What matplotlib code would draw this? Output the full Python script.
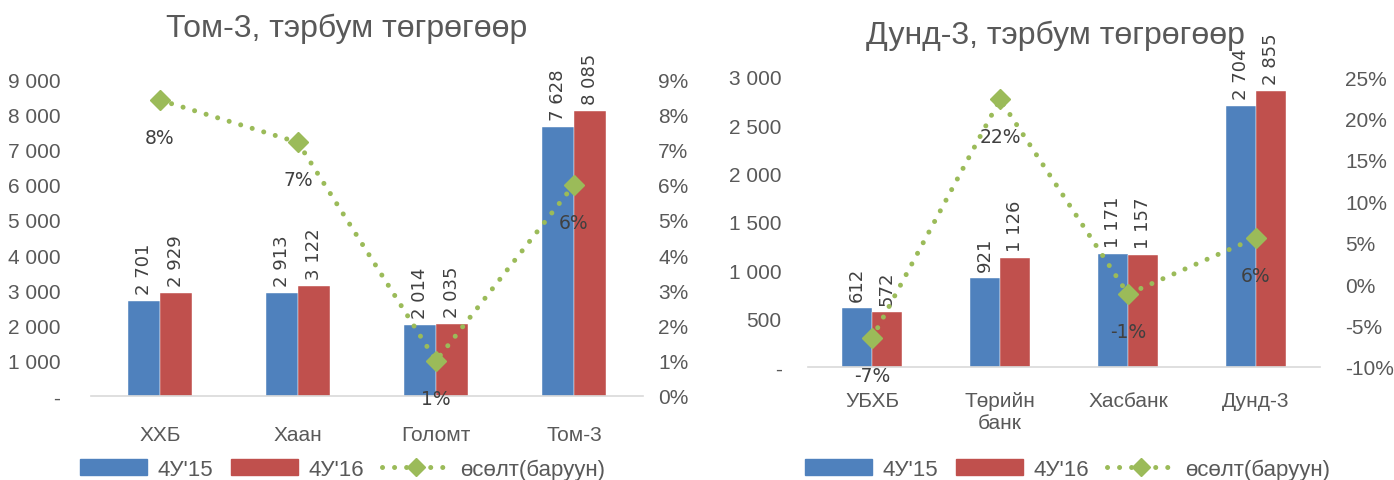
import numpy as np
import matplotlib
matplotlib.use('Agg')
import matplotlib.pyplot as plt
from matplotlib.lines import Line2D
from matplotlib.patches import Patch
from matplotlib.ticker import FuncFormatter, MultipleLocator

plt.rcParams['font.family'] = ['Liberation Sans', 'DejaVu Sans']

# Data
cat_tom = ['ХХБ', 'Хаан', 'Голомт', 'Том-3']
tom_15 = [2701, 2913, 2014, 7628]
tom_16 = [2929, 3122, 2035, 8085]
tom_gr = [8.4, 7.2, 1.0, 6.0]

cat_dund = ['УБХБ', 'Төрийн\nбанк', 'Хасбанк', 'Дунд-3']
dund_15 = [612, 921, 1171, 2704]
dund_16 = [572, 1126, 1157, 2855]
dund_gr = [-6.54, 22.3, -1.2, 5.6]

blue = '#4F81BD'
red = '#C0504D'
green = '#9BBB59'
txt = '#595959'

W, H = 1394, 481
fig = plt.figure(figsize=(W / 100, H / 100), dpi=100)


def fmt_num(v, pos=None):
    if v == 0:
        return '-'
    return f'{int(v):,}'.replace(',', ' ')


def draw(rect, cats, a, b, g, ylim, ystep, y2lim, y2step, lpad, rpad, xpad):
    ax = fig.add_axes(rect)
    x = np.arange(len(cats))
    w = 0.235
    ax.bar(x - w / 2, a, w, color=blue, edgecolor='white', linewidth=0.3)
    ax.bar(x + w / 2, b, w, color=red, edgecolor='white', linewidth=0.3)
    for xi, v in zip(x, a):
        ax.annotate(fmt_num(v), (xi - w / 2, v), xytext=(0, 5), textcoords='offset points',
                    rotation=90, ha='center', va='bottom', fontsize=13,
                    color='#404040', family='DejaVu Sans')
    for xi, v in zip(x, b):
        ax.annotate(fmt_num(v), (xi + w / 2, v), xytext=(0, 5), textcoords='offset points',
                    rotation=90, ha='center', va='bottom', fontsize=13,
                    color='#404040', family='DejaVu Sans')
    ax.set_xlim(-0.5, len(cats) - 0.5)
    ax.set_ylim(*ylim)
    ax.yaxis.set_major_locator(MultipleLocator(ystep))
    ax.yaxis.set_major_formatter(FuncFormatter(fmt_num))
    ax.set_xticks(x)
    ax.set_xticklabels(cats)
    for s in ['top', 'left', 'right']:
        ax.spines[s].set_visible(False)
    ax.spines['bottom'].set_color('#D9D9D9')
    ax.spines['bottom'].set_linewidth(1.2)
    ax.tick_params(axis='x', length=0, pad=xpad, labelsize=15, labelcolor=txt)
    ax.tick_params(axis='y', length=0, pad=lpad, labelsize=15, labelcolor=txt)

    ax2 = ax.twinx()
    ax2.plot(x, g, color=green, lw=3.6, linestyle=(0, (0.01, 2.4)),
             dash_capstyle='round', marker='D', ms=10, markerfacecolor=green,
             markeredgecolor=green)
    for xi, v in zip(x, g):
        ax2.annotate(f'{v:.0f}%', (xi, v), xytext=(0, -27), textcoords='offset points',
                     ha='center', va='center', fontsize=13.5, color='#404040',
                     family='DejaVu Sans')
    ax2.set_ylim(*y2lim)
    ax2.yaxis.set_major_locator(MultipleLocator(y2step))
    ax2.yaxis.set_major_formatter(FuncFormatter(lambda v, p: f'{v:.0f}%'))
    for s in ax2.spines.values():
        s.set_visible(False)
    ax2.tick_params(axis='y', length=0, pad=rpad, labelsize=15, labelcolor=txt)
    return ax


draw([91 / W, 1 - 397 / H, 552 / W, 317 / H], cat_tom, tom_15, tom_16, tom_gr,
     (0, 9000), 1000, (0, 9), 1, 22, 11, 21)
draw([808 / W, 1 - 368 / H, 512 / W, 290 / H], cat_dund, dund_15, dund_16, dund_gr,
     (0, 3000), 500, (-10, 25), 5, 19, 18, 17)

fig.text(347 / W, 1 - 29 / H, 'Том-3, тэрбум төгрөгөөр', ha='center', va='center',
         fontsize=23, color=txt)
fig.text(1055 / W, 1 - 36 / H, 'Дунд-3, тэрбум төгрөгөөр', ha='center', va='center',
         fontsize=23, color=txt)

handles = [Patch(color=blue, label="4У'15"),
           Patch(color=red, label="4У'16"),
           Line2D([0], [0], color=green, lw=3.6, linestyle=(0, (0.01, 2.4)),
                  dash_capstyle='round', marker='D', ms=9, label='өсөлт(баруун)')]
for lx in [60 / W, 785 / W]:
    fig.legend(handles=handles, loc='center left', bbox_to_anchor=(lx, 1 - 470 / H),
               ncol=3, frameon=False, fontsize=16, labelcolor=txt,
               handlelength=3.0, handleheight=0.7, columnspacing=0.8, handletextpad=0.5)

fig.savefig('out.png', dpi=100)
